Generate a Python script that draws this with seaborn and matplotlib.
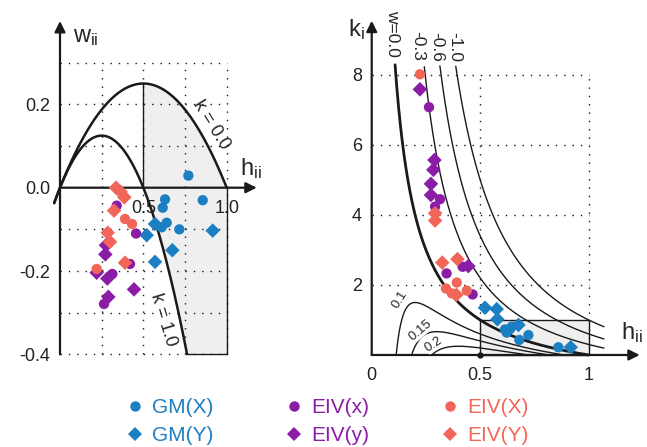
import numpy as np
import pandas as pd
import matplotlib
matplotlib.use("Agg")
import matplotlib.pyplot as plt
import seaborn as sns
from matplotlib.lines import Line2D
from matplotlib.patches import Rectangle

sns.set_theme(style="white")
plt.rcParams["font.family"] = ["Liberation Sans", "DejaVu Sans"]
plt.rcParams["mathtext.fontset"] = "custom"
plt.rcParams["mathtext.rm"] = "Liberation Sans"

# ---------------- data: left panel (h_ii, w_ii) ----------------
gmX_h_l = [0.77, 0.63, 0.856, 0.616, 0.64, 0.61, 0.716]
gmX_w = [0.029, -0.028, -0.030, -0.048, -0.084, -0.095, -0.100]
gmY_h_l = [0.57, 0.52, 0.916, 0.674, 0.57]
gmY_w = [-0.087, -0.114, -0.103, -0.150, -0.178]
eivx_h_l = [0.34, 0.456, 0.42, 0.314, 0.264]
eivx_w = [-0.043, -0.110, -0.183, -0.207, -0.279]
eivy_h_l = [0.276, 0.272, 0.22, 0.284, 0.29, 0.444]
eivy_w = [-0.138, -0.160, -0.204, -0.218, -0.262, -0.244]
eivX_h_l = [0.39, 0.432, 0.22]
eivX_w = [-0.075, -0.087, -0.195]
eivY_h_l = [0.336, 0.364, 0.386, 0.324, 0.286, 0.30, 0.39]
eivY_w = [0.0, -0.010, -0.023, -0.055, -0.108, -0.130, -0.180]

# ---------------- data: right panel (h_ii, k_i) ----------------
gmX_h_r = [0.614, 0.637, 0.622, 0.645, 0.68, 0.722, 0.86]
gmX_k = [0.73, 0.74, 0.64, 0.81, 0.43, 0.57, 0.22]
gmY_h_r = [0.522, 0.576, 0.579, 0.676, 0.917]
gmY_k = [1.35, 1.31, 1.02, 0.857, 0.22]
eivx_h_r = [0.264, 0.315, 0.292, 0.345, 0.419, 0.465]
eivx_k = [7.08, 4.45, 4.24, 2.33, 2.52, 1.73]
eivy_h_r = [0.222, 0.289, 0.284, 0.273, 0.273, 0.445]
eivy_k = [7.59, 5.57, 5.29, 4.89, 4.57, 2.54]
eivX_h_r = [0.222, 0.342, 0.392, 0.438, 0.369]
eivX_k = [8.02, 1.90, 2.07, 1.84, 1.76]
eivY_h_r = [0.292, 0.292, 0.325, 0.395, 0.39]
eivY_k = [4.05, 3.84, 2.64, 2.74, 1.72]

series = ["GM(X)", "GM(Y)", "EIV(x)", "EIV(y)", "EIV(X)", "EIV(Y)"]
colors = {"GM(X)": "#1c7fc2", "GM(Y)": "#1c7fc2",
          "EIV(x)": "#8a1ca6", "EIV(y)": "#8a1ca6",
          "EIV(X)": "#f2665a", "EIV(Y)": "#f2665a"}
markers = {"GM(X)": "o", "GM(Y)": "D", "EIV(x)": "o", "EIV(y)": "D",
           "EIV(X)": "o", "EIV(Y)": "D"}

left_h = [gmX_h_l, gmY_h_l, eivx_h_l, eivy_h_l, eivX_h_l, eivY_h_l]
left_w = [gmX_w, gmY_w, eivx_w, eivy_w, eivX_w, eivY_w]
right_h = [gmX_h_r, gmY_h_r, eivx_h_r, eivy_h_r, eivX_h_r, eivY_h_r]
right_k = [gmX_k, gmY_k, eivx_k, eivy_k, eivX_k, eivY_k]

df_l = pd.concat([pd.DataFrame({"h": h, "w": w, "series": s})
                  for s, h, w in zip(series, left_h, left_w)], ignore_index=True)
df_r = pd.concat([pd.DataFrame({"h": h, "k": k, "series": s})
                  for s, h, k in zip(series, right_h, right_k)], ignore_index=True)

k_levels_left = [0.0, 1.0]
w_levels_neg = [0.0, -0.3, -0.6, -1.0]
w_levels_pos = [0.1, 0.15, 0.2]

fig = plt.figure(figsize=(6.47, 4.47), dpi=100)
axL = fig.add_axes([0.0412, 0.1606, 0.3736, 0.811])
axR = fig.add_axes([0.5242, 0.1667, 0.4696, 0.8065])

dot = (0, (1, 5))
shade = "#efefef"

# ================= LEFT PANEL =================
axL.set_xlim(-0.2, 1.25)
axL.set_ylim(-0.45, 0.42)
for xv in [0.25, 0.5, 0.75, 1.0]:
    axL.plot([xv, xv], [-0.4, 0.3], color="k", lw=1, ls=dot, zorder=1)
for yv in [-0.4, -0.3, -0.2, -0.1, 0.1, 0.2, 0.3]:
    axL.plot([0, 1.0], [yv, yv], color="k", lw=1, ls=dot, zorder=1)

hh = np.linspace(0.5, 1.0, 300)
top = hh * (1 - hh)
bot = np.maximum(hh - 2 * hh ** 2, -0.4)
axL.fill_between(hh, bot, top, color=shade, zorder=0.5, lw=0)
axL.plot([0.5, 0.5], [0, 0.25], color="k", lw=1, zorder=2)
axL.plot([1.0, 1.0], [0, -0.4], color="k", lw=1, zorder=2)
hstar = (1 + np.sqrt(1 + 8 * 0.4)) / 4
axL.plot([hstar, 1.0], [-0.4, -0.4], color="k", lw=1, zorder=2)

for kk in k_levels_left:
    hc = np.linspace(-0.035, 1.0, 600)
    wc = hc * (1 - hc) - kk * hc ** 2
    m = wc >= -0.4
    axL.plot(hc[m], wc[m], color="k", lw=1.8, zorder=3)

axL.annotate("", xy=(0, 0.40), xytext=(0, -0.4),
             arrowprops=dict(arrowstyle="-|>", color="k", lw=1.6,
                             mutation_scale=16, shrinkA=0, shrinkB=0), zorder=4)
axL.annotate("", xy=(1.18, 0), xytext=(0, 0),
             arrowprops=dict(arrowstyle="-|>", color="k", lw=1.6,
                             mutation_scale=16, shrinkA=0, shrinkB=0), zorder=4)

sns.scatterplot(data=df_l, x="h", y="w", hue="series", style="series",
                palette=colors, markers=markers, hue_order=series,
                style_order=series, s=55, linewidth=0, legend=False,
                ax=axL, zorder=5)

axL.text(0.905, 0.152, "k = 0.0", rotation=-58, ha="center", va="center",
         fontsize=13, zorder=6)
axL.text(0.622, -0.318, "k = 1.0", rotation=-73, ha="center", va="center",
         fontsize=13, zorder=6)
axL.text(0.08, 0.362, r"$\mathregular{w_{ii}}$", fontsize=17, ha="left",
         va="center")
axL.text(1.08, 0.045, r"$\mathregular{h_{ii}}$", fontsize=17, ha="left",
         va="center")

axL.set_xticks([0.5, 1.0])
axL.set_xticklabels(["0.5", "1.0"])
axL.set_yticks([-0.4, -0.2, 0.0, 0.2])
axL.set_yticklabels(["-0.4", "-0.2", "0.0", "0.2"])

# ================= RIGHT PANEL =================
axR.set_xlim(-0.15, 1.25)
axR.set_ylim(-0.5, 9.8)
for yv in [2, 4, 6, 8]:
    axR.plot([0, 1.0], [yv, yv], color="k", lw=1, ls=dot, zorder=1)
for xv in [0.5, 1.0]:
    axR.plot([xv, xv], [0, 8], color="k", lw=1, ls=dot, zorder=1)

axR.add_patch(Rectangle((0.5, 0), 0.5, 1.0, facecolor=shade,
                        edgecolor="k", lw=1, zorder=0.5))

for wl in w_levels_neg:
    hc = np.linspace(0.08, 1.0 if wl == 0 else 1.07, 800)
    kc = (hc * (1 - hc) - wl) / hc ** 2
    m = kc <= 8.3
    axR.plot(hc[m], kc[m], color="k", lw=2.0 if wl == 0 else 1.0, zorder=3)

for wl in w_levels_pos:
    r1 = (1 - np.sqrt(1 - 4 * wl)) / 2
    r2 = (1 + np.sqrt(1 - 4 * wl)) / 2
    hc = np.linspace(r1, r2, 600)
    kc = (hc * (1 - hc) - wl) / hc ** 2
    axR.plot(hc, np.maximum(kc, 0), color="k", lw=1.0, zorder=3)

axR.plot([0.5], [0], marker="o", ms=3.5, color="k", zorder=4, clip_on=False)

axR.annotate("", xy=(0, 9.55), xytext=(0, 0),
             arrowprops=dict(arrowstyle="-|>", color="k", lw=1.6,
                             mutation_scale=16, shrinkA=0, shrinkB=0), zorder=4)
axR.annotate("", xy=(1.235, 0), xytext=(0, 0),
             arrowprops=dict(arrowstyle="-|>", color="k", lw=1.6,
                             mutation_scale=16, shrinkA=0, shrinkB=0), zorder=4)

sns.scatterplot(data=df_r, x="h", y="k", hue="series", style="series",
                palette=colors, markers=markers, hue_order=series,
                style_order=series, s=55, linewidth=0, legend=False,
                ax=axR, zorder=5)

for lab, hx, ky in [("w=0.0", 0.098, 9.2), ("-0.3", 0.213, 8.83),
                    ("-0.6", 0.301, 8.8), ("-1.0", 0.384, 8.8)]:
    axR.text(hx, ky, lab, rotation=270, ha="center", va="center", fontsize=12.5)
for lab, hx, ky, rot in [("0.1", 0.13, 1.57, 58), ("0.15", 0.227, 0.71, 40),
                         ("0.2", 0.287, 0.31, 33)]:
    axR.text(hx, ky, lab, rotation=rot, ha="center", va="center", fontsize=9.5,
             bbox=dict(facecolor="white", edgecolor="none", pad=0.3), zorder=4)
axR.text(-0.11, 9.3, r"$\mathregular{k_{i}}$", fontsize=17, ha="left",
         va="center")
axR.text(1.15, 0.63, r"$\mathregular{h_{ii}}$", fontsize=17, ha="left",
         va="center")

axR.set_xticks([0, 0.5, 1.0])
axR.set_xticklabels(["0", "0.5", "1"])
axR.set_yticks([2, 4, 6, 8])
axR.set_yticklabels(["2", "4", "6", "8"])

for ax in (axL, axR):
    ax.set_xlabel("")
    ax.set_ylabel("")
    ax.set_facecolor("none")
    for sp in ("top", "right"):
        ax.spines[sp].set_visible(False)
    ax.spines["left"].set_position(("data", 0))
    ax.spines["bottom"].set_position(("data", 0))
    ax.spines["left"].set_color("none")
    ax.spines["bottom"].set_color("none")
    ax.tick_params(length=0, labelsize=13, colors="#222222")
    ax.tick_params(axis="x", pad=9)
    ax.tick_params(axis="y", pad=7)

# ================= LEGEND =================
handles = [Line2D([], [], linestyle="none", marker=markers[s], color=colors[s],
                  markersize=7.5 if markers[s] == "o" else 7, markeredgewidth=0)
           for s in series]
leg = fig.legend(handles, series, ncol=3, loc="center",
                 bbox_to_anchor=(0.506, 0.057), frameon=False, fontsize=15,
                 handlelength=0.8, handletextpad=0.4, columnspacing=3.5,
                 labelspacing=0.42)
for t, s in zip(leg.get_texts(), series):
    t.set_color(colors[s])

fig.savefig("out.png", dpi=100)
